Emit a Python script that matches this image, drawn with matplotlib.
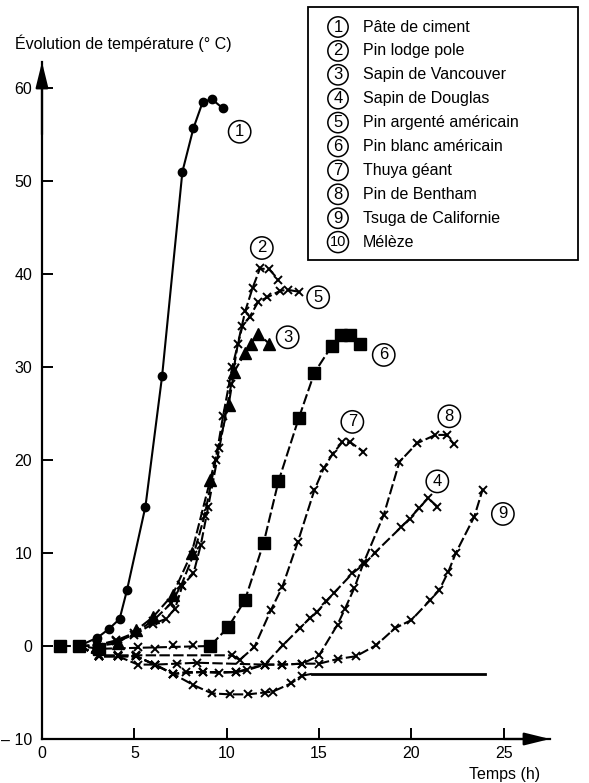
import numpy as np
import matplotlib
matplotlib.use('Agg')
import matplotlib.pyplot as plt
from matplotlib.patches import Rectangle

# Data
t_ciment = [2, 3.0, 3.6, 4.2, 4.6, 5.6, 6.5, 7.6, 8.2, 8.7, 9.2, 9.8]
T_ciment = [0, 0.9, 1.8, 2.9, 6.0, 15.0, 29.0, 51.0, 55.7, 58.5, 58.8, 57.8]

t_lodge = [2, 3, 4, 5, 6.0, 6.7, 7.2, 7.6, 8.2, 8.6, 9.0, 9.6, 10.25, 10.6,
           11.0, 11.4, 11.8, 12.3, 12.8]
T_lodge = [0, 0.1, 0.5, 1.2, 2.4, 2.9, 4.0, 6.5, 7.8, 10.9, 15.0, 21.3, 28.2,
           32.5, 36.0, 38.5, 40.6, 40.5, 39.4]

t_vancouver = [2, 3, 4.1, 5.1, 6.0, 7.07, 8.1, 9.1, 10.1, 10.4, 11.0, 11.3,
               11.7, 12.3]
T_vancouver = [0, 0, 0.3, 1.7, 3.1, 5.5, 10.0, 17.8, 25.9, 29.5, 31.5, 32.5,
               33.6, 32.5]

t_douglas = [2, 3.1, 4.1, 5.2, 6.1, 7.3, 8.4, 12.05, 13.05, 13.95, 14.5, 14.9,
             15.4, 15.8, 16.8, 17.5, 18.0, 19.45, 19.9, 20.4, 20.9, 21.4]
T_douglas = [0, -1.1, -1.1, -2.0, -2.0, -1.9, -1.8, -2.0, 0.1, 1.9, 3.0, 3.7,
             4.8, 5.7, 7.8, 8.9, 10.0, 12.8, 13.7, 14.8, 15.9, 15.0]

t_argente = [2, 3, 4, 5, 6, 7, 7.55, 8.2, 8.8, 9.4, 9.8, 10.3, 10.85, 11.25,
             11.7, 12.2, 12.9, 13.3, 13.9]
T_argente = [0, 0.1, 0.6, 1.4, 2.7, 4.6, 6.6, 9.8, 14.0, 20.0, 24.7, 30.0,
             34.4, 35.4, 37.0, 37.5, 38.2, 38.3, 38.1]

t_blanc = [1, 2, 3.1, 9.1, 10.07, 10.98, 12.0, 12.8, 13.9, 14.75, 15.7, 16.2,
           16.7, 17.2]
T_blanc = [0, 0, -0.3, 0, 2.0, 4.9, 11.1, 17.7, 24.5, 29.4, 32.3, 33.4, 33.4,
           32.5]
t_blanc_x = [4.1, 5.2, 6.1, 7.1, 8.2]
T_blanc_x = [0, -0.1, -0.3, 0.1, 0.1]

t_thuya = [2, 3.1, 4.1, 5.1, 10.3, 10.7, 11.5, 12.4, 13.0, 13.85, 14.75,
           15.25, 15.75, 16.25, 16.7, 17.4]
T_thuya = [0, -1.0, -1.0, -1.0, -1.0, -1.5, -0.1, 3.9, 6.3, 11.2, 16.8, 19.1,
           20.7, 21.9, 21.9, 20.9]

t_bentham = [2, 3.1, 4.1, 5.1, 6.1, 7.1, 7.8, 8.7, 9.6, 10.5, 11.1, 12.05,
             13.0, 14.1, 15.0, 16.0, 16.4, 16.9, 17.4, 18.5, 19.35, 20.3,
             21.3, 21.9, 22.3]
T_bentham = [0, -1.1, -1.1, -1.1, -2.0, -3.0, -2.8, -2.8, -2.9, -2.8, -2.6,
             -2.0, -2.0, -1.9, -1.0, 2.3, 4.0, 6.2, 8.9, 14.1, 19.8, 21.8,
             22.7, 22.7, 21.7]

t_tsuga = [2, 3.1, 4.1, 5.1, 6.1, 7.1, 8.7, 10.5, 12.05, 13.0, 14.1, 15.0,
           16.0, 17.0, 18.1, 19.1, 20.0, 21.0, 21.5, 22.0, 22.4, 23.4, 23.85]
T_tsuga = [0, -1.1, -1.1, -1.1, -2.0, -3.0, -2.8, -2.8, -2.0, -2.0, -1.9,
           -1.9, -1.4, -1.1, 0.1, 1.9, 2.8, 4.9, 6.0, 8.0, 10.0, 13.9, 16.8]

t_meleze = [2, 3.1, 4.1, 5.1, 6.1, 7.1, 8.2, 9.2, 10.2, 11.15, 12.05, 12.5,
            13.5, 14.05]
T_meleze = [0, -1.1, -1.1, -1.1, -2.0, -3.0, -4.2, -5.1, -5.2, -5.2, -5.0,
            -4.9, -4.0, -3.2]
t_meleze_fin = [14.6, 24.0]
T_meleze_fin = [-3.0, -3.0]

noms = ['Pâte de ciment', 'Pin lodge pole', 'Sapin de Vancouver',
        'Sapin de Douglas', 'Pin argenté américain', 'Pin blanc américain',
        'Thuya géant', 'Pin de Bentham', 'Tsuga de Californie', 'Mélèze']

# position of the circled numbers next to the curves
lab_t = [10.7, 11.9, 13.3, 21.4, 14.95, 18.5, 16.8, 22.05, 24.95]
lab_T = [55.3, 42.8, 33.2, 17.7, 37.5, 31.3, 24.1, 24.7, 14.2]

plt.rcParams['font.family'] = ['Liberation Sans', 'DejaVu Sans']
plt.rcParams['font.size'] = 11.5

W, H = 589, 783
fig = plt.figure(figsize=(W / 100, H / 100), dpi=100)
ax = fig.add_axes([42 / W, 1 - 739 / H, (550 - 42) / W, (739 - 62) / H])

dash = (0, (5, 1.6))
kw = dict(color='k', lw=1.5)
xkw = dict(marker='x', ms=6, mew=1.4)

ax.plot(t_ciment, T_ciment, ls='-', marker='o', ms=6, markevery=slice(1, None), **kw)
for t, T in [(t_lodge, T_lodge), (t_argente, T_argente), (t_thuya, T_thuya),
             (t_bentham, T_bentham), (t_tsuga, T_tsuga), (t_douglas, T_douglas)]:
    ax.plot(t, T, ls=dash, markevery=slice(1, None), **xkw, **kw)
ax.plot(t_thuya[4:6], T_thuya[4:6], ls='-', **kw)
ax.plot(t_vancouver, T_vancouver, ls=dash, marker='^', ms=8.5,
        markevery=slice(1, None), **kw)
ax.plot(t_meleze, T_meleze, ls=dash, markevery=slice(1, None), **xkw, **kw)
ax.plot([t_meleze[-1], t_meleze_fin[0]], [T_meleze[-1], T_meleze_fin[0]],
        ls=dash, **kw)
ax.plot(t_meleze_fin, T_meleze_fin, ls='-', color='k', lw=2)
ax.plot(t_blanc, T_blanc, ls=dash, marker='s', ms=8, zorder=4, **kw)
ax.plot(t_blanc_x, T_blanc_x, ls='none', color='k', **xkw)

circ = dict(boxstyle='circle,pad=0.22', fc='white', ec='k', lw=1.1)
for i in range(9):
    ax.text(lab_t[i], lab_T[i], str(i + 1), ha='center', va='center',
            fontsize=12, bbox=circ, zorder=6)

# axes with arrows
for s in ['top', 'right']:
    ax.spines[s].set_visible(False)
for s in ['left', 'bottom']:
    ax.spines[s].set_linewidth(1.6)
ax.set_xlim(0, 27.5)
ax.set_ylim(-10, 62.8)
ax.set_xticks([0, 5, 10, 15, 20, 25])
ax.set_yticks([-10, 0, 10, 20, 30, 40, 50, 60])
ax.set_yticklabels(['– 10', '0', '10', '20', '30', '40', '50', '60'])
ax.tick_params(direction='in', length=8, width=1.4)
ax.tick_params(axis='x', pad=5)
ax.tick_params(axis='y', pad=7)
arr = dict(arrowstyle='-|>,head_length=1.3,head_width=0.32', color='k',
           lw=1.6, mutation_scale=12, shrinkA=0, shrinkB=0)
ax.annotate('', xy=(27.5, -10), xytext=(25, -10), arrowprops=arr,
            annotation_clip=False)
ax.annotate('', xy=(0, 62.8), xytext=(0, 55), arrowprops=arr,
            annotation_clip=False)

fig.text(15 / W, 1 - 43 / H, 'Évolution de température (° C)', va='center')
fig.text(540 / W, 1 - 775 / H, 'Temps (h)', ha='right', va='center')

# legend box
fig.patches.append(Rectangle((308 / W, 1 - 260 / H), 270 / W, 253 / H,
                             transform=fig.transFigure, fill=False,
                             ec='k', lw=1.3))
leg_circ = dict(boxstyle='circle,pad=0.16', fc='white', ec='k', lw=1.1)
for i, nom in enumerate(noms):
    y = 1 - (27 + i * 23.9) / H
    fig.text(338 / W, y, str(i + 1), ha='center', va='center',
             fontsize=12 if i < 9 else 10.5, bbox=leg_circ)
    fig.text(363 / W, y, nom, va='center')

fig.savefig('out.png', dpi=100)
